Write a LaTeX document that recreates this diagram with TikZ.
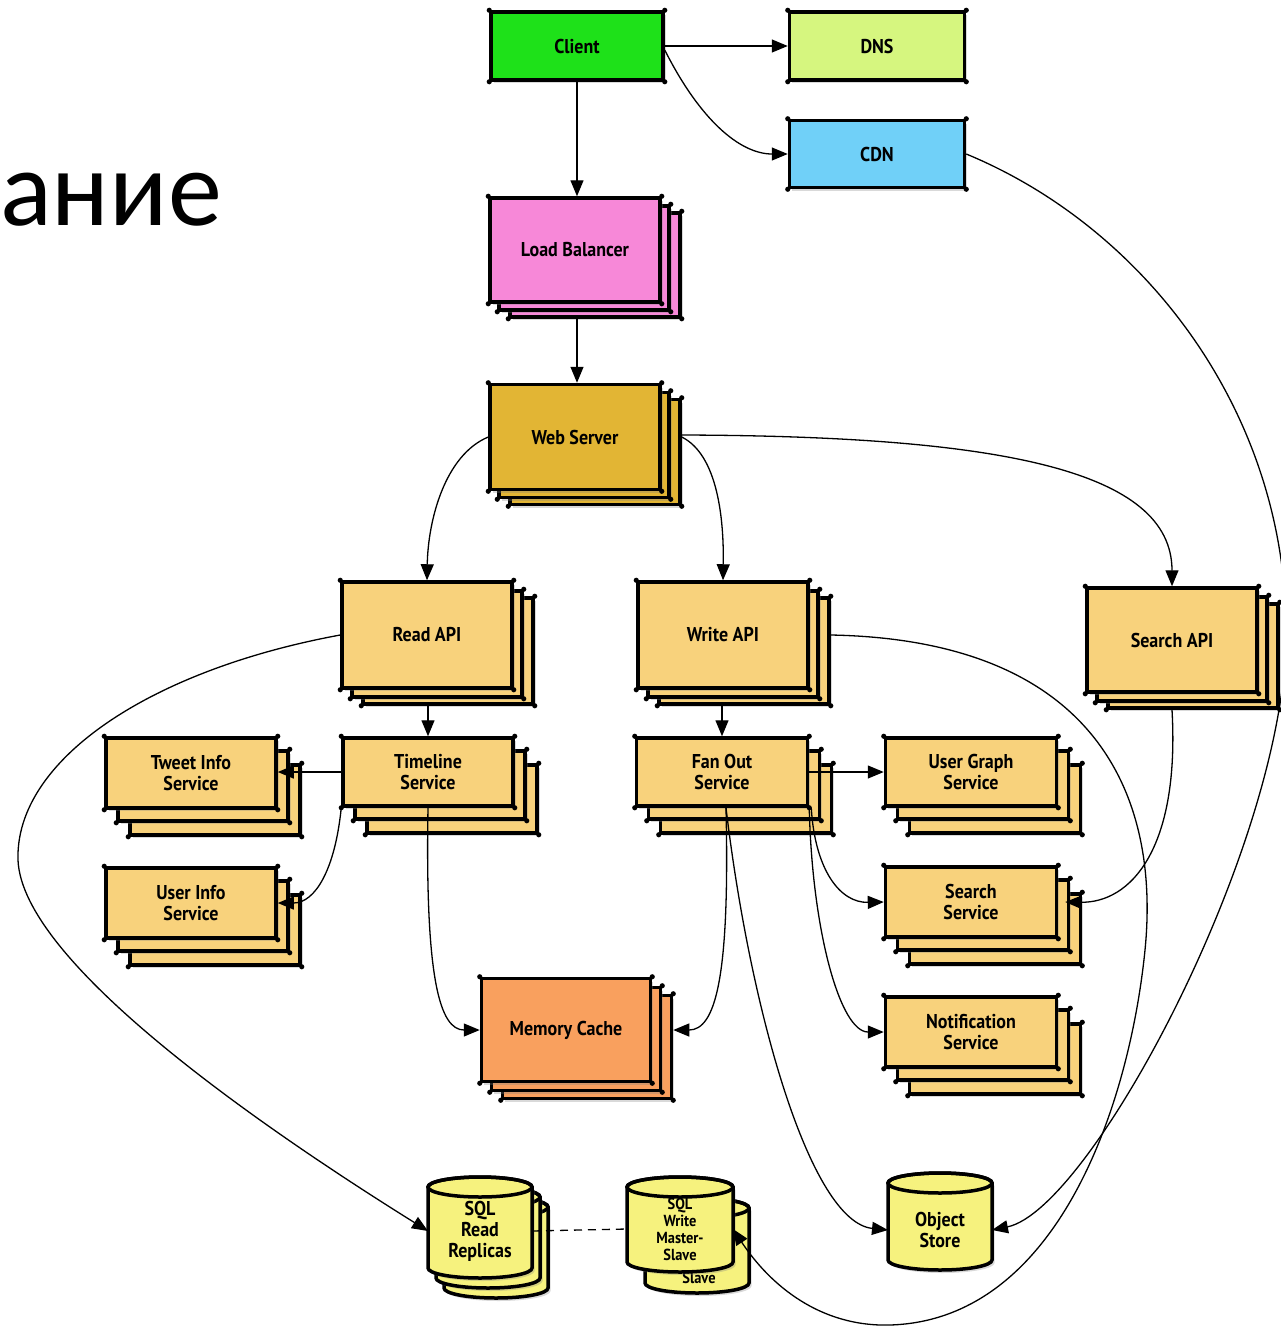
\documentclass[tikz,border=0pt]{standalone}
\usepackage{fontspec}
\usetikzlibrary{arrows.meta,shadows}
\newfontfamily\handfont[FakeStretch=0.9]{PT Sans}
\newfontfamily\titlefont{Carlito}

\definecolor{clientgreen}{RGB}{30,225,25}
\definecolor{dnsgreen}{RGB}{214,246,127}
\definecolor{cdnblue}{RGB}{112,208,248}
\definecolor{lbpink}{RGB}{247,136,216}
\definecolor{webgold}{RGB}{226,181,52}
\definecolor{svcsand}{RGB}{248,210,124}
\definecolor{cacheorange}{RGB}{249,160,94}
\definecolor{dbyellow}{RGB}{246,242,126}

\tikzset{
  card/.style={draw=black, line width=3.5pt, rectangle, inner sep=2pt,
    align=center, font=\handfont\bfseries\fontsize{20}{21}\selectfont,
    drop shadow={shadow xshift=2.5pt, shadow yshift=-3pt, opacity=0.3}},
  conn/.style={line width=1.3pt, -{Triangle[length=16pt,width=13pt]}},
  drumbody/.style={fill=dbyellow, draw=black, line width=3.5pt,
    drop shadow={shadow xshift=2.5pt, shadow yshift=-3pt, opacity=0.3}},
  drumline/.style={draw=black, line width=3.5pt},
  drumlabel/.style={inner sep=0pt, outer sep=0pt, align=center,
    font=\handfont\bfseries\fontsize{20}{21}\selectfont},
  smalldrumlabel/.style={drumlabel, font=\handfont\bfseries\fontsize{16}{17}\selectfont},
}

% one card: name, x, y, width, height, fill, text
\newcommand\cardat[7]{%
  \node[card, fill=#6, minimum width=#4pt, minimum height=#5pt] (#1) at (#2,#3) {#7};
  \foreach \corner in {north west,north east,south west,south east}
    \fill (#1.\corner) circle (2.6pt);
}
\def\parseoffsets#1/#2/#3/#4\relax{\def\offa{#1}\def\offb{#2}\def\offc{#3}\def\offd{#4}}
% a pile of three cards: name, x, y, width, height, fill, text, offsets dx1/dy1/dx2/dy2
\newcommand\cardpile[8]{%
  \parseoffsets#8\relax
  \pgfmathsetmacro\pxa{#2+\offc}\pgfmathsetmacro\pya{#3+\offd}%
  \pgfmathsetmacro\pxb{#2+\offa}\pgfmathsetmacro\pyb{#3+\offb}%
  \cardat{#1-3}{\pxa}{\pya}{#4}{#5}{#6}{}
  \cardat{#1-2}{\pxb}{\pyb}{#4}{#5}{#6}{}
  \cardat{#1}{#2}{#3}{#4}{#5}{#6}{#7}
}
% a database drum: cx, y of top rim, y of bottom rim, rx, ry
\newcommand\drum[5]{%
  \path[drumbody] (#1-#4,#2) -- (#1-#4,#3)
    arc[start angle=180, end angle=360, x radius=#4pt, y radius=#5pt]
    -- (#1+#4,#2)
    arc[start angle=0, end angle=180, x radius=#4pt, y radius=#5pt] -- cycle;
  \draw[drumline] (#1,#2) ellipse[x radius=#4pt, y radius=#5pt];
}

\begin{document}
\begin{tikzpicture}[x=1pt, y=-1pt]
\useasboundingbox (0,0) rectangle (1281,1326);
\clip (0,0) rectangle (1281,1326);

% heading fragment
\node[anchor=base east, inner sep=0pt, font=\titlefont\fontsize{108}{108}\selectfont] (heading) at (222,225) {ание};

% entry tier
\cardat{client}{577}{46}{172}{68}{clientgreen}{Client}
\cardat{dns}{877}{46}{175}{68}{dnsgreen}{DNS}
\cardat{cdn}{877}{154}{175}{67}{cdnblue}{CDN}
\cardpile{lb}{575}{250}{170}{104}{lbpink}{Load Balancer}{9/8/20/15}
\cardpile{web}{575}{437}{170}{105}{webgold}{Web Server}{9/8/20/15}

% API tier
\cardpile{readapi}{427}{635}{170}{106}{svcsand}{Read API}{10/9/21/16}
\cardpile{writeapi}{723}{635}{170}{106}{svcsand}{Write API}{10/9/21/16}
\cardpile{searchapi}{1172}{640}{170}{104}{svcsand}{Search API}{10/9/21/16}

% services
\cardpile{tweet}{191}{773}{170}{70}{svcsand}{Tweet Info\\Service}{12/13/24/27}
\cardpile{timeline}{428}{772}{170}{68}{svcsand}{Timeline\\Service}{12/13/24/27}
\cardpile{userinfo}{191}{903}{170}{70}{svcsand}{User Info\\Service}{12/13/24/27}
\cardpile{fanout}{722}{772}{171}{68}{svcsand}{Fan Out\\Service}{12/13/24/27}
\cardpile{usergraph}{971}{772}{171}{68}{svcsand}{User Graph\\Service}{12/13/24/27}
\cardpile{searchsvc}{971}{902}{171}{70}{svcsand}{Search\\Service}{12/13/24/27}
\cardpile{notif}{971}{1032}{171}{70}{svcsand}{Notification\\Service}{12/13/24/27}
\cardpile{memcache}{566}{1030}{169}{103}{cacheorange}{Memory Cache}{10/9/21/17}

% storage
\drum{496}{1207}{1288}{52}{10}
\drum{488}{1197}{1278}{52}{10}
\drum{480}{1187}{1268}{52}{10}
\node[drumlabel, minimum width=104pt, minimum height=100pt] (sqlread) at (480,1231) {SQL\\Read\\Replicas};

\drum{697}{1208}{1283}{52}{10}
\node[smalldrumlabel] (sqlwrite-2) at (699,1278) {Slave};
\drum{680}{1187}{1262}{53}{10}
\node[smalldrumlabel, minimum width=106pt, minimum height=90pt] (sqlwrite) at (680,1229) {SQL\\Write\\Master-\\Slave};

\drum{940}{1183}{1260}{52}{10}
\node[drumlabel, minimum width=104pt, minimum height=90pt] (objstore) at (940,1230) {Object\\Store};

% connectors
\draw[conn] (client.east) -- (dns.west);
\draw[conn] ([yshift=-4pt]client.east) .. controls (700,120) and (740,154) .. (cdn.west);
\draw[conn] (client.south) -- (client.south |- lb.north);
\draw[conn] (client.south |- lb-3.south) -- (client.south |- web.north);
\draw[conn] (web.west) .. controls (445,455) and (428,520) .. (readapi.north);
\draw[conn] (web-3.east |- web.east) .. controls (718,455) and (724,520) .. (writeapi.north);
\draw[conn] ([yshift=2pt]web-3.east |- web.east) .. controls (1000,436) and (1172,470) .. (searchapi.north);
\draw[conn] (cdn.east) .. controls (1150,230) and (1290,420) .. (1286,640)
  .. controls (1282,850) and (1090,1210) .. (objstore.east);
\draw[conn] (readapi.west) .. controls (150,670) and (15,760) .. (18,860)
  .. controls (22,960) and (250,1120) .. (sqlread.west);
\draw[conn] (timeline.west) -- (timeline.west -| tweet.east);
\draw[conn] (timeline.south west) .. controls (335,870) and (315,903) .. (userinfo.east);
\draw[conn] (timeline.south) .. controls (425,980) and (440,1030) .. (memcache.west);
\draw[conn] (timeline.north |- readapi-3.south) -- (timeline.north);
\draw[conn] (fanout.north |- writeapi-3.south) -- (fanout.north);
\draw[conn] (fanout.east) -- (usergraph.west);
\draw[conn] ([xshift=2pt]fanout.south east) .. controls (815,870) and (840,903) .. (searchsvc.west);
\draw[conn] (fanout.south east) .. controls (812,930) and (840,1032) .. (notif.west);
\draw[conn] ([xshift=4pt]fanout.south) .. controls (730,980) and (715,1030) .. (memcache.east -| memcache-3.east);
\draw[conn] ([xshift=4pt]fanout.south) .. controls (750,1010) and (810,1222) .. (objstore.west);
\draw[conn] (searchapi.south |- searchapi-3.south) .. controls (1180,850) and (1130,903) .. ([xshift=7pt]searchsvc.east);
\draw[conn] (writeapi-3.east |- writeapi.east) .. controls (1100,640) and (1160,800) .. (1145,950)
  .. controls (1130,1100) and (1060,1320) .. (890,1325)
  .. controls (820,1327) and (770,1285) .. (sqlwrite.east);
\draw[line width=1.3pt, dash pattern=on 8pt off 6pt] (sqlread.east) -- (sqlwrite.west);
\end{tikzpicture}
\end{document}
